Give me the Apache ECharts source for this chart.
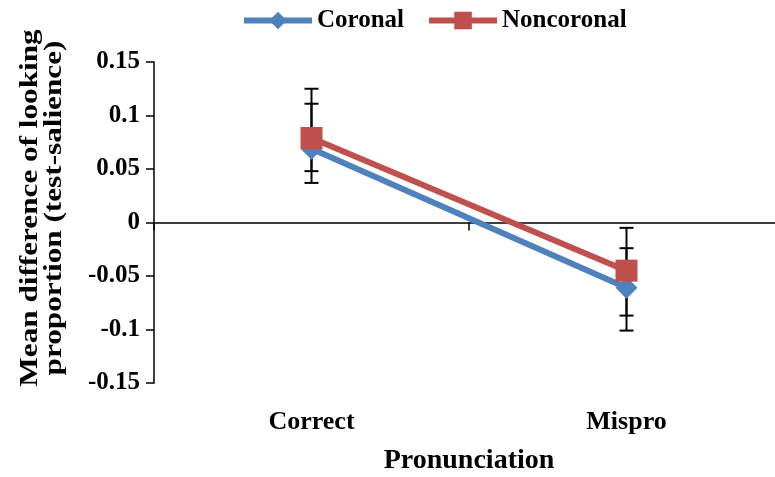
<!DOCTYPE html>
<html>
<head>
<meta charset="utf-8">
<script src="https://cdn.jsdelivr.net/npm/echarts@6/dist/echarts.min.js"></script>
<style>
  html, body { margin: 0; padding: 0; background: #fff; }
  #main { width: 775px; height: 477px; }
</style>
</head>
<body>
<div id="main"></div>
<script>
// data
var categories = ['Correct', 'Mispro'];
var coronal = [0.069, -0.061];
var noncoronal = [0.079, -0.045];
// error bar ends (upper, lower)
var coronalHigh = [0.111, -0.024];
var coronalLow = [0.037, -0.101];
var noncoronalHigh = [0.125, -0.005];
var noncoronalLow = [0.048, -0.087];

var FONT = '"Liberation Serif", "Times New Roman", serif';

function errData(hi, lo) {
  return categories.map(function (c, i) { return [i, hi[i], lo[i]]; });
}

function renderErr(params, api) {
  var x = api.value(0);
  var top = api.coord([x, api.value(1)]);
  var bot = api.coord([x, api.value(2)]);
  var w = 7;
  var st = { stroke: '#000', lineWidth: 2 };
  return {
    type: 'group',
    children: [
      { type: 'line', shape: { x1: top[0], y1: top[1], x2: bot[0], y2: bot[1] }, style: st },
      { type: 'line', shape: { x1: top[0] - w, y1: top[1], x2: top[0] + w, y2: top[1] }, style: st },
      { type: 'line', shape: { x1: bot[0] - w, y1: bot[1], x2: bot[0] + w, y2: bot[1] }, style: st }
    ]
  };
}

var myChart = echarts.init(document.getElementById('main'));
myChart.setOption({
  animation: false,
  textStyle: { fontFamily: FONT },
  legend: {
    data: ['Coronal', 'Noncoronal'],
    top: 3,
    left: 236,
    itemWidth: 68,
    itemHeight: 22,
    itemGap: 22,
    lineStyle: { width: 6 },
    textStyle: { fontFamily: FONT, fontWeight: 'bold', fontSize: 25, color: '#000' }
  },
  grid: { left: 154, top: 62, width: 630, bottom: 94, outerBoundsMode: 'none' },
  graphic: [
    {
      type: 'text',
      x: 42, y: 208,
      rotation: Math.PI / 2,
      scaleX: 1.2,
      style: {
        text: 'Mean difference of looking\nproportion (test-salience)',
        font: 'bold 26px ' + FONT,
        fill: '#000',
        textAlign: 'center',
        textVerticalAlign: 'middle',
        lineHeight: 24
      }
    }
  ],
  xAxis: [
    {
      type: 'category',
      data: categories,
      axisLine: { onZero: true, lineStyle: { color: '#000', width: 1.5 } },
      axisTick: { show: true, length: 8, lineStyle: { color: '#000', width: 1.5 } },
      axisLabel: { show: false },
      splitLine: { show: false }
    },
    {
      type: 'category',
      data: categories,
      position: 'bottom',
      axisLine: { show: false },
      axisTick: { show: false },
      axisLabel: { margin: 26, fontFamily: FONT, fontWeight: 'bold', fontSize: 26, color: '#000' },
      name: 'Pronunciation',
      nameLocation: 'middle',
      nameGap: 64,
      nameTextStyle: { fontFamily: FONT, fontWeight: 'bold', fontSize: 28, color: '#000' }
    }
  ],
  yAxis: {
    type: 'value',
    min: -0.15,
    max: 0.15,
    interval: 0.05,
    axisLine: { show: true, lineStyle: { color: '#000', width: 1.5 } },
    axisTick: { show: true, length: 8, lineStyle: { color: '#000', width: 1.5 } },
    axisLabel: { margin: 14, fontFamily: FONT, fontWeight: 'bold', fontSize: 25, color: '#000' },
    splitLine: { show: false }
  },
  series: [
    {
      type: 'custom',
      name: 'errC',
      renderItem: renderErr,
      data: errData(coronalHigh, coronalLow),
      encode: { x: 0, y: [1, 2] },
      z: 1
    },
    {
      type: 'custom',
      name: 'errN',
      renderItem: renderErr,
      data: errData(noncoronalHigh, noncoronalLow),
      encode: { x: 0, y: [1, 2] },
      z: 1
    },
    {
      name: 'Coronal',
      type: 'line',
      data: coronal,
      symbol: 'diamond',
      symbolSize: 22,
      color: '#4F81BD',
      lineStyle: { width: 6, color: '#4F81BD' },
      itemStyle: { color: '#4F81BD' },
      z: 3
    },
    {
      name: 'Noncoronal',
      type: 'line',
      data: noncoronal,
      symbol: 'rect',
      symbolSize: 22,
      color: '#C0504D',
      lineStyle: { width: 6, color: '#C0504D' },
      itemStyle: { color: '#C0504D' },
      z: 4
    }
  ]
});
</script>
</body>
</html>
